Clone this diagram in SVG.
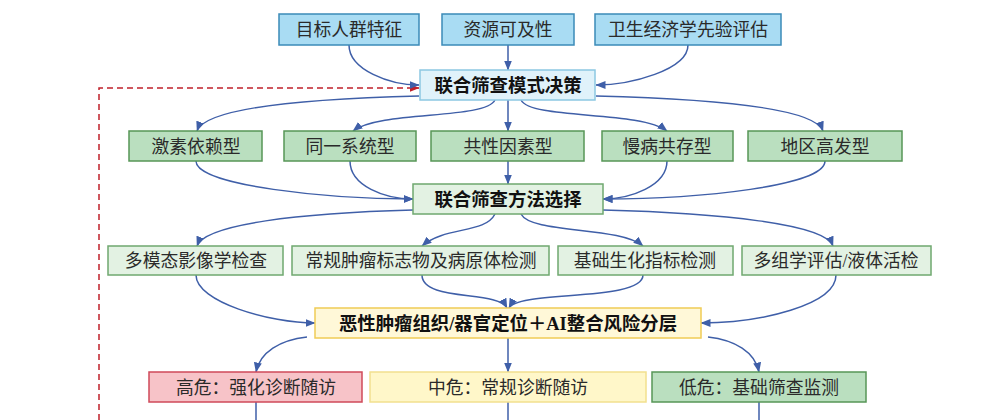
<svg xmlns="http://www.w3.org/2000/svg" width="988" height="420" viewBox="0 0 988 420">
<defs>
<marker id="ah" viewBox="0 0 10 8" refX="9.5" refY="4" markerWidth="10" markerHeight="8" markerUnits="userSpaceOnUse" orient="auto">
<path d="M0,0 L10,4 L0,8 Z" fill="#3f5fa8"/>
</marker>
<marker id="ahr" viewBox="0 0 10 8" refX="9.5" refY="4" markerWidth="10" markerHeight="8" markerUnits="userSpaceOnUse" orient="auto">
<path d="M0,0 L10,4 L0,8 Z" fill="#c0202a"/>
</marker>
<style>
.t{font-family:"Liberation Serif","Noto Sans CJK SC",serif;font-size:17.8px;fill:#2a2a2a;text-anchor:middle;dominant-baseline:central}
.b{font-weight:bold;fill:#111;font-size:18.4px}
.blue{fill:#a9dcf3;stroke:#3b8bb8;stroke-width:1.5}
.pblue{fill:#e0f2fa;stroke:#8cc8e2;stroke-width:1.5}
.green{fill:#badfbf;stroke:#579657;stroke-width:1.5}
.pgreen{fill:#e3f2e3;stroke:#6fa86f;stroke-width:1.5}
.pyel{fill:#fff8d8;stroke:#f0cc55;stroke-width:1.5}
.yel{fill:#fff7c9;stroke:#f2e08e;stroke-width:1.5}
.red{fill:#f7c3c8;stroke:#cf4a5a;stroke-width:1.5}
.c path{fill:none;stroke:#3f5fa8;stroke-width:1.5}
.c path.a{marker-end:url(#ah)}
.c path.dash{stroke:#c0202a;stroke-dasharray:6,4;marker-end:url(#ahr)}
</style>
</defs>
<rect width="988" height="420" fill="#fff"/>
<g class="c" id="connectors">
<path class="dash" d="M99,420 L99,88 L419,88"/>
<path class="a" d="M349,45 C349,70 390,85 419,85"/>
<path class="a" d="M508,45 L508,70"/>
<path class="a" d="M688,45 C688,70 630,85 596,85"/>
<path class="a" d="M419,96 C300,99 205,108 197,131"/>
<path class="a" d="M495,100 C485,120 380,110 353,131"/>
<path class="a" d="M508,100 L508,131"/>
<path class="a" d="M521,100 C531,120 640,110 667,131"/>
<path class="a" d="M596,96 C715,99 815,108 823,131"/>
<path class="a" d="M196,161 C196,186 330,199 413,199"/>
<path class="a" d="M350,161 C350,186 385,199 413,199"/>
<path class="a" d="M508,161 L508,184"/>
<path class="a" d="M667,161 C667,186 630,199 603,199"/>
<path class="a" d="M825,161 C825,186 700,199 603,199"/>
<path class="a" d="M413,210 C300,213 205,224 197,246"/>
<path class="a" d="M495,214 C485,234 445,226 422,246"/>
<path class="a" d="M521,214 C531,234 620,226 643,246"/>
<path class="a" d="M603,210 C720,213 825,224 833,246"/>
<path class="a" d="M196,275 C196,302 270,323 315,323"/>
<path class="a" d="M422,275 C422,302 498,290 507,308"/>
<path class="a" d="M643,275 C643,302 518,290 509,308"/>
<path class="a" d="M836,275 C836,305 760,323 701,323"/>
<path class="a" d="M307,337 C280,340 260,352 256,372"/>
<path class="a" d="M508,338 L508,372"/>
<path class="a" d="M708,337 C735,340 755,352 759,372"/>
<path d="M256,402 L256,420"/>
<path d="M508,402 L508,420"/>
<path d="M759,402 L759,420"/>
</g>
<g id="n1"><rect class="blue" x="279" y="14" width="140" height="31"/><text class="t" x="349" y="30">目标人群特征</text></g>
<g id="n2"><rect class="blue" x="442" y="14" width="132" height="31"/><text class="t" x="508" y="30">资源可及性</text></g>
<g id="n3"><rect class="blue" x="595" y="14" width="186" height="31"/><text class="t" x="688" y="30">卫生经济学先验评估</text></g>
<g id="n4"><rect class="pblue" x="420" y="70" width="175" height="30"/><text class="t b" x="508" y="86">联合筛查模式决策</text></g>
<g id="n5"><rect class="green" x="129" y="131" width="133" height="30"/><text class="t" x="196" y="147">激素依赖型</text></g>
<g id="n6"><rect class="green" x="284" y="131" width="132" height="30"/><text class="t" x="350" y="147">同一系统型</text></g>
<g id="n7"><rect class="green" x="431" y="131" width="153" height="30"/><text class="t" x="508" y="147">共性因素型</text></g>
<g id="n8"><rect class="green" x="602" y="131" width="131" height="30"/><text class="t" x="667" y="147">慢病共存型</text></g>
<g id="n9"><rect class="green" x="748" y="131" width="154" height="30"/><text class="t" x="825" y="147">地区高发型</text></g>
<g id="n10"><rect class="pgreen" x="413" y="184" width="190" height="30"/><text class="t b" x="508" y="200">联合筛查方法选择</text></g>
<g id="n11"><rect class="pgreen" x="108" y="246" width="175" height="29"/><text class="t" x="196" y="261">多模态影像学检查</text></g>
<g id="n12"><rect class="pgreen" x="292" y="246" width="257" height="29"/><text class="t" x="421" y="261">常规肿瘤标志物及病原体检测</text></g>
<g id="n13"><rect class="pgreen" x="558" y="246" width="175" height="29"/><text class="t" x="645" y="261">基础生化指标检测</text></g>
<g id="n14"><rect class="pgreen" x="742" y="246" width="189" height="29"/><text class="t" x="836" y="261">多组学评估/液体活检</text></g>
<g id="n15"><rect class="pyel" x="315" y="308" width="386" height="30"/><text class="t b" x="508" y="324">恶性肿瘤组织/器官定位＋AI整合风险分层</text></g>
<g id="n16"><rect class="red" x="149" y="372" width="213" height="30"/><text class="t" x="256" y="388">高危：强化诊断随访</text></g>
<g id="n17"><rect class="yel" x="370" y="372" width="276" height="30"/><text class="t" x="508" y="388">中危：常规诊断随访</text></g>
<g id="n18"><rect class="green" x="652" y="372" width="214" height="30"/><text class="t" x="759" y="388">低危：基础筛查监测</text></g>
</svg>
